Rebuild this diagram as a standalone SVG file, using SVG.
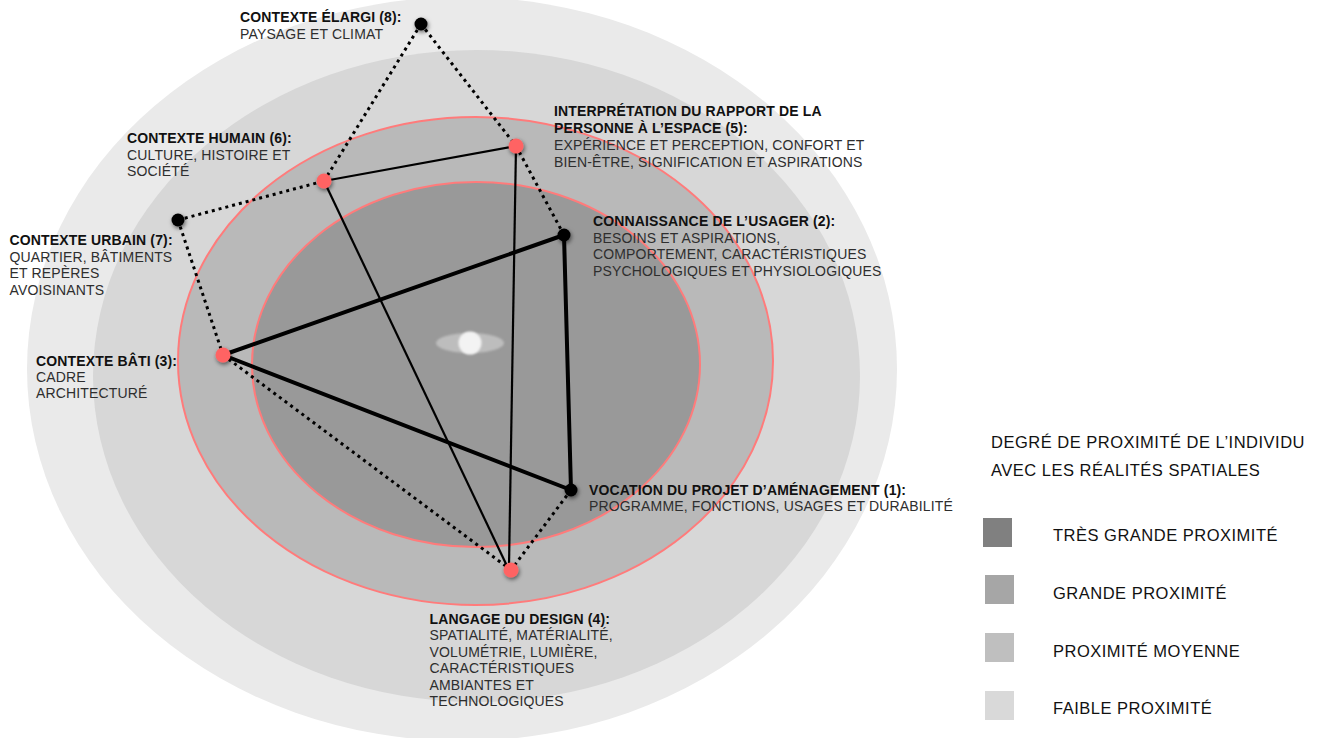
<svg xmlns="http://www.w3.org/2000/svg" width="1325" height="738" viewBox="0 0 1325 738">
<defs>
<filter id="sh" x="-100%" y="-100%" width="300%" height="300%"><feDropShadow dx="1" dy="2" stdDeviation="2" flood-color="#000" flood-opacity="0.55"/></filter>
<filter id="blur" x="-50%" y="-50%" width="200%" height="200%"><feGaussianBlur stdDeviation="0.8"/></filter>
<style>
.t{font-family:"Liberation Sans",Arial,Helvetica,sans-serif;font-size:14px;letter-spacing:0.15px}
.b{font-weight:bold;fill:#111}
.r{fill:#2e2e2e}
.lg{font-family:"Liberation Sans",Arial,Helvetica,sans-serif;font-size:16.5px;letter-spacing:0.5px;fill:#111}
.thick{stroke:#000;stroke-width:4;fill:none;stroke-linecap:round}
.thin{stroke:#000;stroke-width:2.2;fill:none}
.dot{stroke:#000;stroke-width:3;stroke-dasharray:3 4;fill:none}
.red{fill:#ff6464}
.blk{fill:#000}
</style>
</defs>
<rect width="1325" height="738" fill="#fff"/>
<g id="zones">
<ellipse cx="462" cy="369" rx="435" ry="372" fill="#eaeaea"/>
<ellipse cx="476.5" cy="376" rx="383.5" ry="326" fill="#d7d7d7"/>
<ellipse cx="475.5" cy="361" rx="297.5" ry="244" fill="#b9b9b9" stroke="#ff7b7b" stroke-width="2"/>
<ellipse cx="476" cy="364.5" rx="224" ry="182.5" fill="#999999" stroke="#ff7b7b" stroke-width="2"/>
<g id="centre">
<ellipse cx="470" cy="343" rx="34" ry="10" fill="#bdbdbd" filter="url(#blur)"/>
<circle cx="470" cy="343" r="11.5" fill="#f3f3f3" filter="url(#blur)"/>
</g>
</g>
<g id="connectors">
<line class="dot" x1="421" y1="24" x2="324" y2="181"/>
<line class="dot" x1="421" y1="24" x2="516" y2="146"/>
<line class="dot" x1="516" y1="146" x2="564" y2="235"/>
<line class="dot" x1="178" y1="220" x2="324" y2="181"/>
<line class="dot" x1="178" y1="220" x2="223" y2="355"/>
<line class="dot" x1="223" y1="355" x2="511" y2="570"/>
<line class="dot" x1="571" y1="490" x2="511" y2="570"/>
<line class="thin" x1="324" y1="181" x2="516" y2="146"/>
<line class="thin" x1="516" y1="146" x2="509" y2="566"/>
<line class="thin" x1="324" y1="181" x2="507" y2="566"/>
<line class="thick" x1="223" y1="355" x2="564" y2="235"/>
<line class="thick" x1="564" y1="235" x2="571" y2="490"/>
<line class="thick" x1="571" y1="490" x2="223" y2="355"/>
</g>
<g id="n8">
<circle class="blk" cx="421" cy="24" r="6.5" filter="url(#sh)"/>
<text class="t b" x="240" y="22">CONTEXTE ÉLARGI (8):</text>
<text class="t r" x="240" y="39">PAYSAGE ET CLIMAT</text>
</g>
<g id="n5">
<circle class="red" cx="516" cy="146" r="7.5" filter="url(#sh)"/>
<text class="t b" x="554" y="116">INTERPRÉTATION DU RAPPORT DE LA</text>
<text class="t b" x="554" y="133">PERSONNE À L’ESPACE (5):</text>
<text class="t r" x="554" y="150">EXPÉRIENCE ET PERCEPTION, CONFORT ET</text>
<text class="t r" x="554" y="167">BIEN-ÊTRE, SIGNIFICATION ET ASPIRATIONS</text>
</g>
<g id="n6">
<circle class="red" cx="324" cy="181" r="7.5" filter="url(#sh)"/>
<text class="t b" x="127" y="143">CONTEXTE HUMAIN (6):</text>
<text class="t r" x="127" y="159.5">CULTURE, HISTOIRE ET</text>
<text class="t r" x="127" y="176">SOCIÉTÉ</text>
</g>
<g id="n7">
<circle class="blk" cx="178" cy="220" r="6.5" filter="url(#sh)"/>
<text class="t b" x="9.5" y="245">CONTEXTE URBAIN (7):</text>
<text class="t r" x="9.5" y="261.5">QUARTIER, BÂTIMENTS</text>
<text class="t r" x="9.5" y="278">ET REPÈRES</text>
<text class="t r" x="9.5" y="294.5">AVOISINANTS</text>
</g>
<g id="n2">
<circle class="blk" cx="564" cy="235" r="6.5" filter="url(#sh)"/>
<text class="t b" x="593" y="226">CONNAISSANCE DE L’USAGER (2):</text>
<text class="t r" x="593" y="242.5">BESOINS ET ASPIRATIONS,</text>
<text class="t r" x="593" y="259">COMPORTEMENT, CARACTÉRISTIQUES</text>
<text class="t r" x="593" y="275.5">PSYCHOLOGIQUES ET PHYSIOLOGIQUES</text>
</g>
<g id="n3">
<circle class="red" cx="223" cy="355" r="7.5" filter="url(#sh)"/>
<text class="t b" x="36" y="366">CONTEXTE BÂTI (3):</text>
<text class="t r" x="36" y="382">CADRE</text>
<text class="t r" x="36" y="398">ARCHITECTURÉ</text>
</g>
<g id="n1">
<circle class="blk" cx="571" cy="490" r="6.5" filter="url(#sh)"/>
<text class="t b" x="589" y="495">VOCATION DU PROJET D’AMÉNAGEMENT (1):</text>
<text class="t r" x="589" y="511">PROGRAMME, FONCTIONS, USAGES ET DURABILITÉ</text>
</g>
<g id="n4">
<circle class="red" cx="511" cy="570" r="7.5" filter="url(#sh)"/>
<text class="t b" x="429.5" y="623.5">LANGAGE DU DESIGN (4):</text>
<text class="t r" x="429.5" y="640">SPATIALITÉ, MATÉRIALITÉ,</text>
<text class="t r" x="429.5" y="656.5">VOLUMÉTRIE, LUMIÈRE,</text>
<text class="t r" x="429.5" y="673">CARACTÉRISTIQUES</text>
<text class="t r" x="429.5" y="689.5">AMBIANTES ET</text>
<text class="t r" x="429.5" y="706">TECHNOLOGIQUES</text>
</g>
<g id="legend">
<text class="lg" x="991" y="448">DEGRÉ DE PROXIMITÉ DE L’INDIVIDU</text>
<text class="lg" x="991" y="476">AVEC LES RÉALITÉS SPATIALES</text>
<rect x="983" y="518" width="29" height="29" fill="#808080"/>
<text class="lg" x="1053" y="541">TRÈS GRANDE PROXIMITÉ</text>
<rect x="985" y="575" width="29" height="29" fill="#a6a6a6"/>
<text class="lg" x="1053" y="599">GRANDE PROXIMITÉ</text>
<rect x="985" y="633" width="29" height="29" fill="#bfbfbf"/>
<text class="lg" x="1053" y="657">PROXIMITÉ MOYENNE</text>
<rect x="985" y="691" width="29" height="29" fill="#d9d9d9"/>
<text class="lg" x="1053" y="714">FAIBLE PROXIMITÉ</text>
</g>
</svg>
